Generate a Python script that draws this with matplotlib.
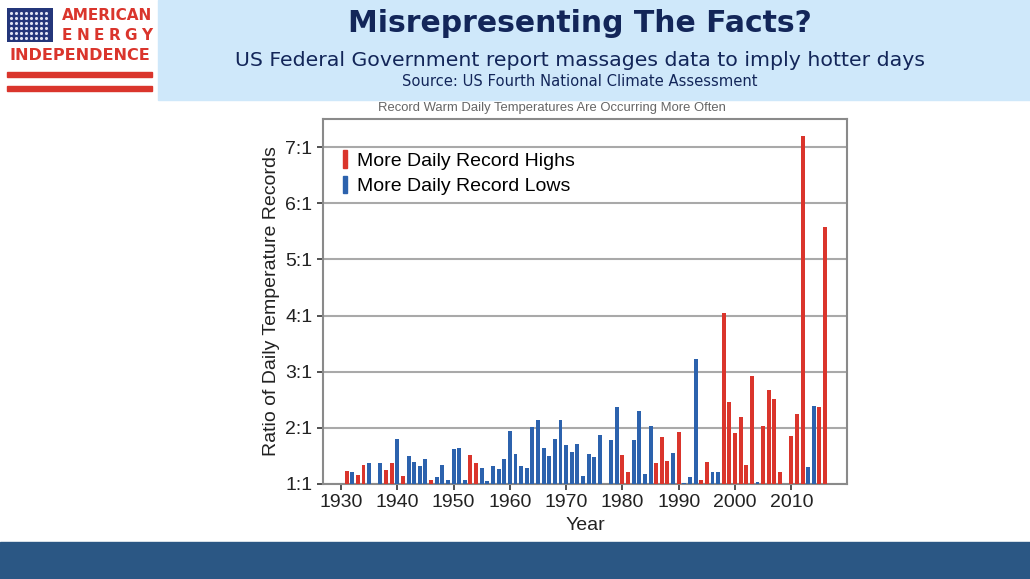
import matplotlib
matplotlib.use("Agg")
import matplotlib.pyplot as plt
from matplotlib.patches import Rectangle, Patch
import numpy as np

# Data (ratio of record highs to lows, or lows to highs)
years = [1931, 1932, 1933, 1934, 1935, 1937, 1938, 1939, 1940, 1941,
         1942, 1943, 1944, 1945, 1946, 1947, 1948, 1949, 1950, 1951,
         1952, 1953, 1954, 1955, 1956, 1957, 1958, 1959, 1960, 1961,
         1962, 1963, 1964, 1965, 1966, 1967, 1968, 1969, 1970, 1971,
         1972, 1973, 1974, 1975, 1976, 1978, 1979, 1980, 1981, 1982,
         1983, 1984, 1985, 1986, 1987, 1988, 1989, 1990, 1991, 1992,
         1993, 1994, 1995, 1996, 1997, 1998, 1999, 2000, 2001, 2002,
         2003, 2004, 2005, 2006, 2007, 2008, 2010, 2011, 2012, 2013,
         2014, 2015, 2016]
ratios = [1.24, 1.21, 1.16, 1.33, 1.38, 1.375, 1.25, 1.37, 1.80, 1.15,
          1.50, 1.39, 1.32, 1.44, 1.08, 1.125, 1.33, 1.07, 1.62, 1.64,
          1.07, 1.52, 1.38, 1.29, 1.05, 1.32, 1.27, 1.45, 1.95, 1.54,
          1.32, 1.29, 2.01, 2.14, 1.65, 1.49, 1.80, 2.14, 1.70, 1.57,
          1.71, 1.15, 1.53, 1.48, 1.87, 1.79, 2.375, 1.51, 1.21, 1.78,
          2.30, 1.18, 2.03, 1.38, 1.845, 1.41, 1.55, 1.92, 1.01, 1.13,
          3.23, 1.08, 1.40, 1.22, 1.22, 4.04, 2.46, 1.90, 2.20, 1.34,
          2.92, 1.03, 2.04, 2.67, 2.51, 1.22, 1.86, 2.24, 7.20, 1.30,
          2.39, 2.37, 5.58]
kind = ["H", "L", "H", "H", "L", "L", "H", "H", "L", "H",
        "L", "L", "L", "L", "H", "L", "L", "L", "L", "L",
        "L", "H", "H", "L", "L", "L", "L", "L", "L", "L",
        "L", "L", "L", "L", "L", "L", "L", "L", "L", "L",
        "L", "L", "L", "L", "L", "L", "L", "H", "H", "L",
        "L", "L", "L", "H", "H", "H", "L", "H", "L", "L",
        "L", "H", "H", "L", "L", "H", "H", "H", "H", "H",
        "H", "L", "H", "H", "H", "H", "H", "H", "H", "L",
        "L", "H", "H"]

ytick_vals = [1, 2, 3, 4, 5, 6, 7]
ytick_labels = ["1:1", "2:1", "3:1", "4:1", "5:1", "6:1", "7:1"]
xtick_vals = [1930, 1940, 1950, 1960, 1970, 1980, 1990, 2000, 2010]

RED = "#da352c"
BLUE = "#2c62ad"
NAVY = "#132659"

W, H = 1030, 579
fig = plt.figure(figsize=(W / 100, H / 100), dpi=100)

def fx(x):
    return x / W

def fy(y):
    return 1 - y / H

# header band and footer
fig.patches.append(Rectangle((fx(158), fy(100)), 1 - fx(158), 100 / H,
                             transform=fig.transFigure, color="#cfe8fa", zorder=0))
fig.patches.append(Rectangle((0, 0), 1, 37 / H, transform=fig.transFigure,
                             color="#2b5784", zorder=0))

# logo
logo = fig.add_axes([fx(7), fy(42), 46 / W, 34 / H])
logo.set_xlim(0, 46)
logo.set_ylim(0, 34)
logo.set_facecolor("#24367a")
logo.set_xticks([])
logo.set_yticks([])
for s in logo.spines.values():
    s.set_visible(False)
sx, sy = np.meshgrid(np.arange(4, 44, 5), np.arange(4, 32, 5))
logo.scatter(sx.ravel(), sy.ravel(), s=5, color="#dfe3f2", lw=0)
fig.text(fx(152), fy(16), "AMERICAN", ha="right", va="center", color=RED,
         fontsize=11, fontweight="bold", family="DejaVu Sans")
for i, ch in enumerate("ENERGY"):
    fig.text(fx(67 + i * 15.9), fy(36), ch, ha="center", va="center", color=RED,
             fontsize=11, fontweight="bold", family="DejaVu Sans")
fig.text(fx(80), fy(56), "INDEPENDENCE", ha="center", va="center", color=RED,
         fontsize=11.6, fontweight="bold", family="DejaVu Sans")
for ys in (72, 86):
    fig.patches.append(Rectangle((fx(7), fy(ys + 5)), 145 / W, 5 / H,
                                 transform=fig.transFigure, color=RED, zorder=1))

# titles
fig.text(fx(580), fy(24), "Misrepresenting The Facts?", ha="center", va="center",
         color=NAVY, fontsize=21.5, fontweight="bold", family="DejaVu Sans")
fig.text(fx(580), fy(60), "US Federal Government report massages data to imply hotter days",
         ha="center", va="center", color=NAVY, fontsize=14.75, family="DejaVu Sans")
fig.text(fx(580), fy(82), "Source: US Fourth National Climate Assessment",
         ha="center", va="center", color=NAVY, fontsize=10.6, family="DejaVu Sans")
fig.text(fx(552), fy(108), "Record Warm Daily Temperatures Are Occurring More Often",
         ha="center", va="center", color="#666666", fontsize=9.4, family="Liberation Sans")

# chart
ax = fig.add_axes([fx(323), fy(484), (847 - 323) / W, (484 - 119) / H])
colors = [RED if k == "H" else BLUE for k in kind]
heights = [r - 1 for r in ratios]
ax.bar(years, heights, bottom=1, width=0.7, color=colors, zorder=3)

ax.set_xlim(1926.8, 2019.9)
ax.set_ylim(1, 7.5)
ax.set_yticks(ytick_vals)
ax.set_yticklabels(ytick_labels)
ax.set_xticks(xtick_vals)
ax.grid(axis="y", color="#a9a9a9", lw=1.5, zorder=1)
for s in ax.spines.values():
    s.set_color("#8a8a8a")
    s.set_linewidth(1.5)
ax.tick_params(colors="#333333", labelcolor="#222222", labelsize=14,
               length=4, width=1.2)
for lbl in ax.get_xticklabels() + ax.get_yticklabels():
    lbl.set_family("Liberation Sans")
ax.set_xlabel("Year", fontsize=14, family="Liberation Sans", color="#222222", labelpad=4)
ax.set_ylabel("Ratio of Daily Temperature Records", fontsize=14,
              family="Liberation Sans", color="#222222", labelpad=4)

handles = [Patch(color=RED, label="More Daily Record Highs"),
           Patch(color=BLUE, label="More Daily Record Lows")]
ax.legend(handles=handles, loc="upper left", bbox_to_anchor=(0.004, 0.962),
          frameon=False, handlelength=0.25, handleheight=1.0, handletextpad=0.5,
          labelspacing=0.3, prop={"family": "Liberation Sans", "size": 14})

fig.savefig("out.png", dpi=100)
